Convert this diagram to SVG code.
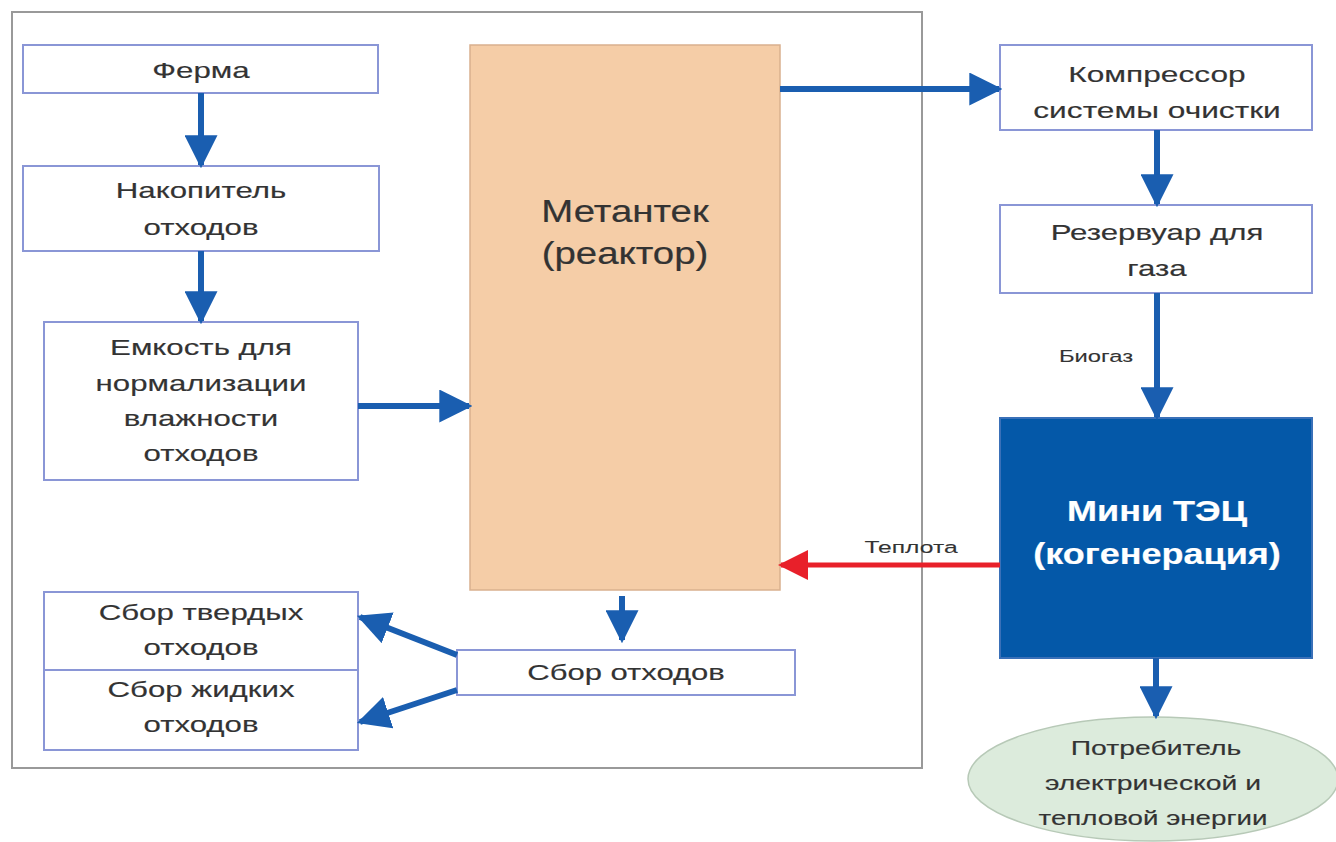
<svg xmlns="http://www.w3.org/2000/svg" width="1336" height="842" viewBox="0 0 1336 842">
<style>
.box{fill:#ffffff;stroke:#8a96d6;stroke-width:2}
.t{font-family:"Liberation Sans",Arial,sans-serif;font-size:22px;fill:#333;stroke:#333;stroke-width:0.15;text-anchor:middle}
.big{font-size:32px;stroke-width:0.2}
.wb{font-size:30px;font-weight:bold;fill:#ffffff;stroke:#ffffff;stroke-width:0.2}
.sm{font-size:17px;stroke-width:0.1}
.el{font-size:21px}
.ln{stroke:#1a5eb0;stroke-width:6;fill:none}
.rl{stroke:#e8202a;stroke-width:5;fill:none}
</style>
<defs>
<marker id="ah" viewBox="0 0 10 10" refX="9" refY="5" markerWidth="5.5" markerHeight="5.5" orient="auto" markerUnits="strokeWidth">
<path d="M0,0 L10,5 L0,10 z" fill="#1a5eb0"/>
</marker>
<marker id="ahr" viewBox="0 0 10 10" refX="9" refY="5" markerWidth="6" markerHeight="6" orient="auto" markerUnits="strokeWidth">
<path d="M0,0 L10,5 L0,10 z" fill="#e8202a"/>
</marker>
</defs>
<rect width="1336" height="842" fill="#ffffff"/>
<rect id="frame" x="12" y="12" width="910" height="756" fill="#ffffff" stroke="#999" stroke-width="2"/>

<g id="ferma"><rect class="box" x="23" y="45" width="355" height="48"/><text class="t" transform="translate(201,78) scale(1.42,1)">Ферма</text></g>
<g id="nakopitel"><rect class="box" x="23" y="166" width="356" height="85"/><text class="t" transform="translate(201,198) scale(1.42,1)">Накопитель</text><text class="t" transform="translate(201,235) scale(1.42,1)">отходов</text></g>
<g id="emkost"><rect class="box" x="44" y="322" width="314" height="158"/>
<text class="t" transform="translate(201,355) scale(1.42,1)">Емкость для</text><text class="t" transform="translate(201,391) scale(1.42,1)">нормализации</text><text class="t" transform="translate(201,426) scale(1.42,1)">влажности</text><text class="t" transform="translate(201,461) scale(1.42,1)">отходов</text></g>
<g id="metantek"><rect x="470" y="45" width="310" height="545" fill="#f5cda7" stroke="#d9b08e" stroke-width="1.5"/>
<text class="t big" transform="translate(625,222) scale(1.2,1)">Метантек</text><text class="t big" transform="translate(625,264) scale(1.2,1)">(реактор)</text></g>
<g id="kompressor"><rect class="box" x="1000" y="45" width="312" height="85"/><text class="t" transform="translate(1157,82) scale(1.44,1)">Компрессор</text><text class="t" transform="translate(1157,118) scale(1.44,1)">системы очистки</text></g>
<g id="rezervuar"><rect class="box" x="1000" y="205" width="312" height="88"/><text class="t" transform="translate(1157,240) scale(1.42,1)">Резервуар для</text><text class="t" transform="translate(1157,276) scale(1.42,1)">газа</text></g>
<g id="minitec"><rect x="1000" y="418" width="312" height="240" fill="#0458a8" stroke="#3a70b8" stroke-width="2"/>
<text class="t wb" transform="translate(1157,521) scale(1.2,1)">Мини ТЭЦ</text><text class="t wb" transform="translate(1157,564) scale(1.2,1)">(когенерация)</text></g>
<g id="potrebitel"><ellipse cx="1153" cy="779" rx="185" ry="62" fill="#dcebdc" stroke="#b7c9b7" stroke-width="1.5"/>
<text class="t el" transform="translate(1156,755) scale(1.35,1)">Потребитель</text><text class="t el" transform="translate(1153,790) scale(1.35,1)">электрической и</text><text class="t el" transform="translate(1153,825) scale(1.32,1)">тепловой энергии</text></g>
<g id="sbor"><rect class="box" x="457" y="650" width="338" height="45"/><text class="t" transform="translate(626,680) scale(1.41,1)">Сбор отходов</text></g>
<g id="tverdye"><rect class="box" x="44" y="592" width="314" height="78"/><text class="t" transform="translate(201,620) scale(1.42,1)">Сбор твердых</text><text class="t" transform="translate(201,655) scale(1.42,1)">отходов</text></g>
<g id="zhidkie"><rect class="box" x="44" y="670" width="314" height="80"/><text class="t" transform="translate(201,697) scale(1.42,1)">Сбор жидких</text><text class="t" transform="translate(201,732) scale(1.42,1)">отходов</text></g>

<g id="connectors">
<line class="ln" x1="201" y1="93" x2="201" y2="165" marker-end="url(#ah)"/>
<line class="ln" x1="201" y1="251" x2="201" y2="321" marker-end="url(#ah)"/>
<line class="ln" x1="358" y1="406" x2="469" y2="406" marker-end="url(#ah)"/>
<line class="ln" x1="780" y1="89" x2="999" y2="89" marker-end="url(#ah)"/>
<line class="ln" x1="1157" y1="130" x2="1157" y2="204" marker-end="url(#ah)"/>
<line class="ln" x1="1157" y1="293" x2="1157" y2="417" marker-end="url(#ah)"/>
<text class="t sm" transform="translate(1096,362) scale(1.4,1)">Биогаз</text>
<line class="rl" x1="1000" y1="565" x2="781" y2="565" marker-end="url(#ahr)"/>
<text class="t sm" transform="translate(911,553) scale(1.45,1)">Теплота</text>
<line class="ln" x1="1156" y1="658" x2="1156" y2="716" marker-end="url(#ah)"/>
<line class="ln" x1="622" y1="596" x2="622" y2="640" marker-end="url(#ah)"/>
<line class="ln" x1="457" y1="655" x2="360" y2="617" marker-end="url(#ah)"/>
<line class="ln" x1="457" y1="690" x2="360" y2="722" marker-end="url(#ah)"/>
</g>
</svg>
